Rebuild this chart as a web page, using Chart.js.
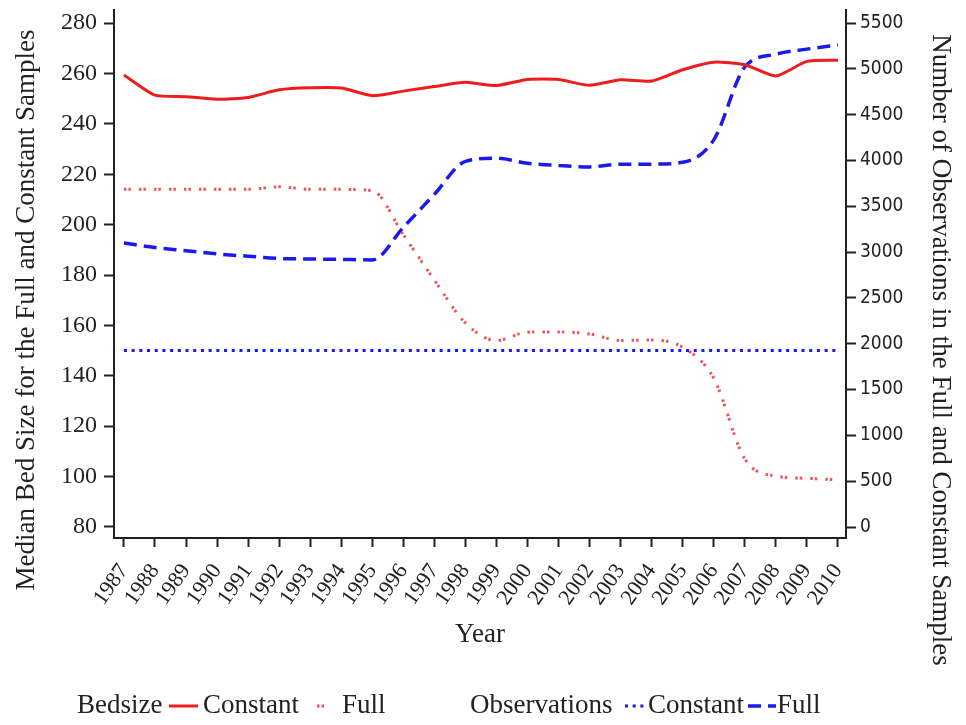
<!DOCTYPE html>
<html><head><meta charset="utf-8">
<script src="https://cdn.jsdelivr.net/npm/chart.js@4"></script>
<style>html,body{margin:0;padding:0;background:#fff}#wrap{width:966px;height:725px;position:relative}</style>
</head><body><div id="wrap"><canvas id="c" width="966" height="725"></canvas></div>
<script>
const years = [1987,1988,1989,1990,1991,1992,1993,1994,1995,1996,1997,1998,1999,2000,2001,2002,2003,2004,2005,2006,2007,2008,2009,2010];
const bedsizeConstant = [259.4,251.4,250.8,249.8,250.5,253.5,254.3,254.2,251.2,253,254.8,256.5,255.2,257.6,257.6,255.3,257.5,257,261.5,264.5,263.5,259,264.8,265.3];
const bedsizeFull = [214,214,214,214,214,215,214,214,213.5,196,178,161,154,157.3,157.4,156.6,154,154.2,151.3,139,107,100.2,99.3,98.7];
const obsConstant = [1925,1925,1925,1925,1925,1925,1925,1925,1925,1925,1925,1925,1925,1925,1925,1925,1925,1925,1925,1925,1925,1925,1925,1925];
const obsFull = [3100,3050,3015,2980,2955,2930,2925,2920,2915,3270,3630,3990,4025,3970,3945,3930,3960,3960,3980,4225,5020,5160,5215,5260];
const leftTicks = [80,100,120,140,160,180,200,220,240,260,280];
const rightTicks = [0,500,1000,1500,2000,2500,3000,3500,4000,4500,5000,5500];

const pts = arr => arr.map((v,i)=>({x:years[i], y:v}));
const SERIF = '"Liberation Serif", "Times New Roman", serif';
const SANS = '"DejaVu Sans Condensed", "DejaVu Sans", sans-serif';
const INK = '#222';

const decor = {
  id:'decor',
  afterDraw(chart){
    const ctx = chart.ctx;
    ctx.save();
    ctx.fillStyle = INK;
    ctx.font = '27px ' + SERIF;
    ctx.textAlign = 'center'; ctx.textBaseline = 'middle';
    ctx.save(); ctx.translate(27, 310); ctx.rotate(-Math.PI/2);
    ctx.fillText('Median Bed Size for the Full and Constant Samples', 0, 0); ctx.restore();
    ctx.save(); ctx.translate(940, 350); ctx.rotate(Math.PI/2);
    ctx.fillText('Number of Observations in the Full and Constant Samples', 0, 0); ctx.restore();
    ctx.fillText('Year', 480, 635);
    ctx.textAlign = 'left';
    const y = 706;
    const ds = chart.data.datasets;
    const sample = (x0, x1, d) => {
      ctx.save(); ctx.strokeStyle = d.borderColor; ctx.lineWidth = d.borderWidth;
      ctx.setLineDash(d.borderDash || []); ctx.beginPath(); ctx.moveTo(x0, y); ctx.lineTo(x1, y); ctx.stroke(); ctx.restore();
    };
    ctx.fillText('Bedsize', 77, y);
    sample(169, 198, ds[0]);
    ctx.fillText('Constant', 203, y);
    sample(317, 325, ds[1]);
    ctx.fillText('Full', 342, y);
    ctx.fillText('Observations', 470, y);
    sample(625, 646, ds[2]);
    ctx.fillText('Constant', 648, y);
    sample(748, 776, ds[3]);
    ctx.fillText('Full', 777, y);
    ctx.restore();
  }
};

const tickGrid = {display:true, drawOnChartArea:false, drawTicks:true, tickLength:10, tickColor:INK, tickWidth:2};
const noPad = s => { s.paddingTop = 0; s.paddingBottom = 0; s.paddingLeft = 0; s.paddingRight = 0; };

new Chart(document.getElementById('c'), {
  type:'line',
  data:{datasets:[
    {label:'Bedsize Constant', data:pts(bedsizeConstant), yAxisID:'yL', borderColor:'#ee1c1c', borderWidth:3, tension:0.2, pointRadius:0, fill:false},
    {label:'Bedsize Full', data:pts(bedsizeFull), yAxisID:'yL', borderColor:'#f05555', borderWidth:3, borderDash:[2.5,2,2.5,8], tension:0.4, cubicInterpolationMode:'monotone', pointRadius:0, fill:false},
    {label:'Observations Constant', data:pts(obsConstant), yAxisID:'yR', borderColor:'#1a1aee', borderWidth:3, borderDash:[3,4.7], pointRadius:0, fill:false},
    {label:'Observations Full', data:pts(obsFull), yAxisID:'yR', borderColor:'#1a1aee', borderWidth:3.5, borderDash:[13,7], tension:0.4, cubicInterpolationMode:'monotone', pointRadius:0, fill:false}
  ]},
  options:{
    responsive:false, animation:false, devicePixelRatio:1,
    layout:{padding:{top:10, left:0, right:0, bottom:0}},
    plugins:{legend:{display:false}, tooltip:{enabled:false}},
    scales:{
      x:{type:'linear', position:'bottom', min:1986.68, max:2010.26,
        afterBuildTicks:s=>{s.ticks = years.map(v=>({value:v}));},
        afterFit:s=>{s.height = 187; noPad(s);},
        ticks:{autoSkip:false, minRotation:55, maxRotation:55, padding:12, color:INK, font:{family:SERIF, size:22}, callback:v=>String(v)},
        grid:{...tickGrid, tickLength:9},
        border:{display:true, color:INK, width:2}},
      yL:{type:'linear', position:'left', min:75.6, max:285.2,
        afterBuildTicks:s=>{s.ticks = leftTicks.map(v=>({value:v}));},
        afterFit:s=>{s.width = 114; noPad(s);},
        ticks:{padding:7, color:INK, font:{family:SERIF, size:24}, callback:v=>String(v)},
        grid:tickGrid,
        border:{display:true, color:INK, width:2}},
      yR:{type:'linear', position:'right', min:-120, max:5642,
        afterBuildTicks:s=>{s.ticks = rightTicks.map(v=>({value:v}));},
        afterFit:s=>{s.width = 120; noPad(s);},
        ticks:{padding:4, color:INK, font:{family:SANS, size:19}, callback:v=>String(v)},
        grid:tickGrid,
        border:{display:true, color:INK, width:2}}
    }
  },
  plugins:[decor]
});
</script></body></html>
